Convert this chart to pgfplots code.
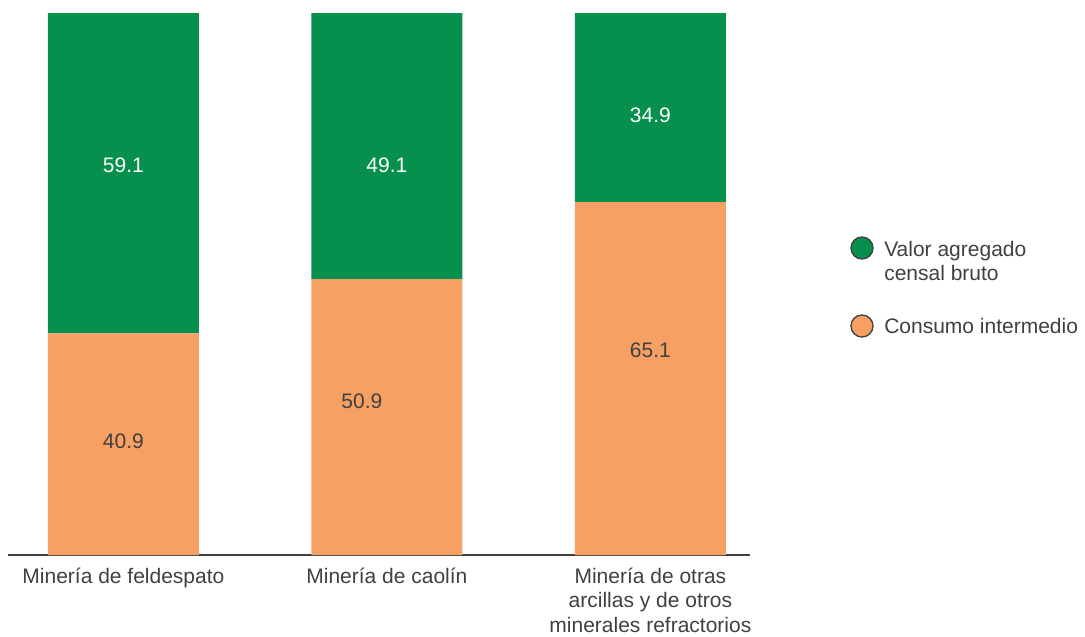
\documentclass[border=0pt]{standalone}
\usepackage{pgfplots}
\pgfplotsset{compat=1.18}
\usepackage{fontspec}
\setmainfont{Liberation Sans}
\definecolor{vgreen}{HTML}{078F4D}
\definecolor{corange}{HTML}{F7A064}
\definecolor{txt}{HTML}{404040}
\begin{document}
\begin{tikzpicture}[font=\fontsize{15.75}{18.4}\selectfont]
\useasboundingbox (0,0) rectangle (813.75pt,-477pt);
\begin{axis}[
  at={(6pt,-416.25pt)}, anchor=south west,
  scale only axis, width=556.5pt, height=406.5pt,
  xmin=-0.438, xmax=2.378, ymin=0, ymax=100,
  ybar stacked, bar width=0.573,
  axis x line*=bottom, axis y line=none,
  x axis line style={txt, line width=1.5pt},
  xtick={0,1,2}, major tick length=0pt,
  xticklabels={{Minería de feldespato},{Minería de caolín},{Minería de otras\\arcillas y de otros\\minerales refractorios}},
  xticklabel style={align=center, text=txt, font=\fontsize{15.75}{18.4}\selectfont, yshift=-6pt},
  ytick=\empty,
  clip=false,
]
\addplot[fill=corange, draw=none] coordinates {(0,40.9) (1,50.9) (2,65.1)};
\addplot[fill=vgreen, draw=none] coordinates {(0,59.1) (1,49.1) (2,34.9)};
\coordinate (a1) at (axis cs:0,71.95);
\coordinate (a2) at (axis cs:1,71.95);
\coordinate (a3) at (axis cs:2,81.2);
\coordinate (b1) at (axis cs:0,21.0);
\coordinate (b2) at (axis cs:0.905,28.4);
\coordinate (b3) at (axis cs:2,37.8);
\end{axis}
\node[white] at (a1) {59.1};
\node[white] at (a2) {49.1};
\node[white] at (a3) {34.9};
\node[text=txt] at (b1) {40.9};
\node[text=txt] at (b2) {50.9};
\node[text=txt] at (b3) {65.1};
\draw[fill=vgreen, draw=txt, line width=1pt] (646.5pt,-186pt) circle (8.25pt);
\draw[fill=corange, draw=txt, line width=1pt] (646.5pt,-244.5pt) circle (8.25pt);
\node[anchor=base west, align=left, text=txt, inner sep=0pt] at (663pt,-210.4pt) {Valor agregado\\censal bruto};
\node[anchor=base west, align=left, text=txt, inner sep=0pt] at (663pt,-250.1pt) {Consumo intermedio};
\end{tikzpicture}
\end{document}
